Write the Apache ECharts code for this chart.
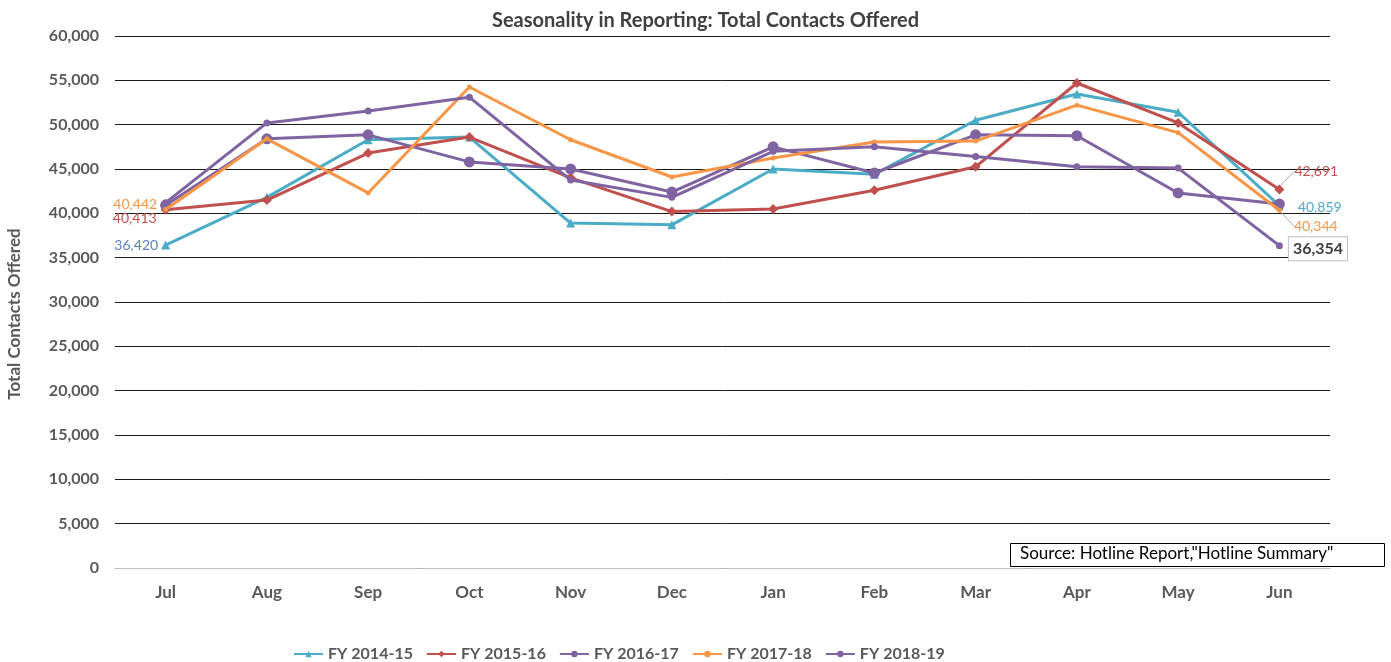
<!DOCTYPE html>
<html>
<head>
<meta charset="utf-8">
<script src="https://cdn.jsdelivr.net/npm/echarts@6/dist/echarts.min.js"></script>
<style>
  html, body { margin: 0; padding: 0; background: #fff; }
  #chart { width: 1391px; height: 662px; }
</style>
</head>
<body>
<div id="chart"></div>
<script>
// months of the fiscal year
const months = ['Jul', 'Aug', 'Sep', 'Oct', 'Nov', 'Dec', 'Jan', 'Feb', 'Mar', 'Apr', 'May', 'Jun'];

// values (first and last are labelled in the chart)
const fy1415 = [36420, 41800, 48300, 48600, 38900, 38700, 45000, 44400, 50500, 53450, 51400, 40859];
const fy1516 = [40413, 41500, 46800, 48600, 44000, 40200, 40500, 42600, 45250, 54700, 50200, 42691];
const fy1617 = [40900, 48400, 48850, 45800, 45000, 42400, 47500, 44550, 48850, 48750, 42300, 41050];
const fy1718 = [40442, 48400, 42300, 54250, 48300, 44100, 46250, 48050, 48150, 52200, 49100, 40344];
const fy1819 = [41200, 50200, 51550, 53100, 43750, 41800, 47000, 47500, 46400, 45250, 45100, 36354];

const yTicks = { min: 0, max: 60000, interval: 5000 };

const fontFam = 'Lato, "Open Sans", sans-serif';

let chart = echarts.init(document.getElementById('chart'));

const leader = { show: true, lineStyle: { color: '#a6a6a6', width: 1 } };

// builds data items, putting a label on the chosen points
function withLabels(values, labels, lines) {
    lines = lines || {};
    return values.map(function (v, i) {
        if (labels[i]) {
            let item = { value: v, label: Object.assign({ show: true }, labels[i]) };
            item.labelLine = lines[i] ? leader : { show: false };
            return item;
        }
        return v;
    });
}

function labelStyle(color, pos, extra) {
    return Object.assign({
        position: pos,
        color: color,
        fontSize: 14,
        fontWeight: 'normal',
        fontFamily: fontFam,
        formatter: function (p) { return p.value.toLocaleString('en-US'); }
    }, extra || {});
}

// shifts labels up or down by data index
function shift(map) {
    return function (params) {
        if (map[params.dataIndex] !== undefined) {
            return { dy: map[params.dataIndex] };
        }
        return {};
    };
}

const teal = '#4bacc6', red = '#c0504d', purple = '#8064a2', orange = '#f79646';

let option = {
    animation: false,
    title: {
        text: 'Seasonality in Reporting: Total Contacts Offered',
        left: 487,
        top: 6,
        textStyle: { fontSize: 20, fontWeight: 'bold', color: '#404040', fontFamily: fontFam }
    },
    grid: { left: 115, right: 61, top: 36, bottom: 94, outerBoundsMode: 'none' },
    legend: {
        bottom: 0,
        left: 293,
        padding: 0,
        itemWidth: 29,
        itemHeight: 8,
        itemGap: 13,
        textStyle: { fontSize: 16, fontWeight: 'bold', color: '#595959', fontFamily: fontFam },
        data: ['FY 2014-15', 'FY 2015-16', 'FY 2016-17', 'FY 2017-18', 'FY 2018-19']
    },
    xAxis: {
        type: 'category',
        data: months,
        boundaryGap: true,
        axisLine: { lineStyle: { color: '#bfbfbf', width: 1 } },
        axisTick: { show: false },
        axisLabel: { margin: 16, fontSize: 17, fontWeight: 'bold', color: '#595959', fontFamily: fontFam }
    },
    yAxis: {
        type: 'value',
        min: yTicks.min,
        max: yTicks.max,
        interval: yTicks.interval,
        axisLine: { show: false },
        axisTick: { show: false },
        splitLine: { lineStyle: { color: '#1a1a1a', width: 1 } },
        axisLabel: {
            margin: 16, fontSize: 16, fontWeight: 'bold', color: '#595959', fontFamily: fontFam,
            formatter: function (v) { return v.toLocaleString('en-US'); }
        }
    },
    series: [
        {
            name: 'FY 2014-15', type: 'line', symbol: 'triangle', symbolSize: 9,
            itemStyle: { color: teal }, lineStyle: { width: 3, color: teal },
            data: withLabels(fy1415, {
                0: labelStyle('#5b7fc4', 'left', { distance: 3 }),
                11: labelStyle(teal, 'right', { distance: 14, offset: [0, 2] })
            }),
            z: 2
        },
        {
            name: 'FY 2015-16', type: 'line', symbol: 'diamond', symbolSize: 10,
            itemStyle: { color: red }, lineStyle: { width: 3, color: red },
            data: withLabels(fy1516, {
                0: labelStyle(red, 'left', { distance: 4 }),
                11: labelStyle(red, 'right', { distance: 10 })
            }, { 11: true }),
            labelLayout: shift({ 0: 9, 11: -18 }),
            z: 3
        },
        {
            name: 'FY 2016-17', type: 'line', symbol: 'circle', symbolSize: 11,
            itemStyle: { color: purple }, lineStyle: { width: 3, color: purple },
            data: fy1617,
            z: 4
        },
        {
            name: 'FY 2017-18', type: 'line', symbol: 'circle', symbolSize: 5,
            itemStyle: { color: orange }, lineStyle: { width: 3, color: orange },
            data: withLabels(fy1718, {
                0: labelStyle(orange, 'left', { distance: 6 }),
                11: labelStyle(orange, 'right', { distance: 12 })
            }, { 11: true }),
            labelLayout: shift({ 0: -5, 11: 16 }),
            z: 5
        },
        {
            name: 'FY 2018-19', type: 'line', symbol: 'circle', symbolSize: 7,
            itemStyle: { color: purple }, lineStyle: { width: 3, color: purple },
            data: withLabels(fy1819, {
                11: labelStyle('#404040', 'right', {
                    distance: 6, fontSize: 16, fontWeight: 'bold', offset: [0, 3],
                    backgroundColor: '#fff', borderColor: '#bfbfbf', borderWidth: 1,
                    padding: [4, 4, 3, 4]
                })
            }),
            z: 6
        }
    ],
    graphic: [
        {
            type: 'text',
            x: 15, y: 314,
            rotation: Math.PI / 2,
            style: {
                text: 'Total Contacts Offered',
                align: 'center', verticalAlign: 'middle',
                fontSize: 17, fontWeight: 'bold', fontFamily: fontFam, fill: '#595959'
            }
        },
        {
            type: 'rect',
            left: 1010, top: 543,
            shape: { width: 374, height: 23 },
            style: { fill: '#fff', stroke: '#000', lineWidth: 1 },
            z: 100
        },
        {
            type: 'text',
            left: 1020, top: 545,
            style: {
                text: 'Source: Hotline Report,"Hotline Summary"',
                fontSize: 17, fontFamily: fontFam, fill: '#000'
            },
            z: 101
        }
    ]
};

chart.setOption(option);
</script>
</body>
</html>
